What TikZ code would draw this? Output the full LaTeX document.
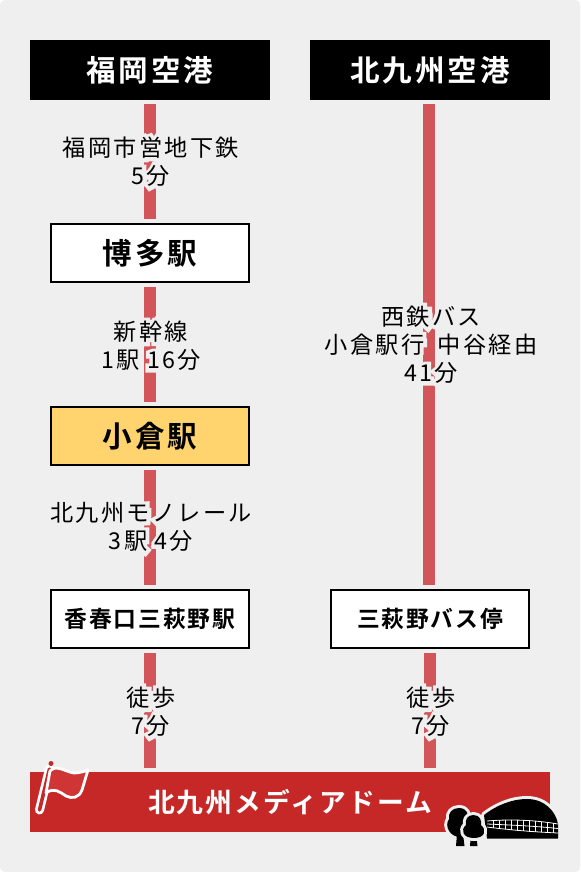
\documentclass[tikz,border=0pt]{standalone}
\usepackage{fontspec}
\usepackage{xcolor}
\setmainfont{Noto Sans CJK JP}
\newfontfamily\routefont[LetterSpace=10]{Noto Sans CJK JP}
\newfontfamily\halorfont[FakeBold=32,LetterSpace=10]{Noto Sans CJK JP}
\newfontfamily\titlefont[LetterSpace=10]{Noto Sans CJK JP Bold}
\newfontfamily\goalfont[LetterSpace=8]{Noto Sans CJK JP Bold}
\definecolor{mapbg}{HTML}{EFEFEF}
\definecolor{railred}{HTML}{D2555A}
\definecolor{goalred}{HTML}{C62828}
\definecolor{flagred}{HTML}{CF3535}
\definecolor{hubyellow}{HTML}{FFD36E}
\newcommand{\halo}[1]{\leavevmode\rlap{\color{mapbg}\halorfont #1}{\routefont #1}}
\usetikzlibrary{positioning, calc}
\tikzset{
  airport/.style = {rectangle, fill=black, text=white,
                    minimum width=6.0cm, minimum height=1.5cm, inner sep=0pt,
                    font=\titlefont\fontsize{21}{24}\selectfont},
  station/.style = {draw=black, line width=0.05cm, fill=white, rectangle,
                    minimum width=4.95cm, minimum height=1.45cm, inner sep=0pt,
                    outer sep=0.025cm,
                    font=\titlefont\fontsize{21}{24}\selectfont},
  stop/.style    = {station, font=\goalfont\fontsize{16.2}{20}\selectfont},
  hub/.style     = {station, fill=hubyellow},
  goal/.style    = {rectangle, fill=goalred, text=white,
                    minimum width=13.0cm, minimum height=1.5cm, inner sep=0pt,
                    font=\goalfont\fontsize{19}{24}\selectfont},
  route/.style   = {align=center, inner sep=0pt,
                    font=\fontsize{16.5}{20}\selectfont},
  rail/.style    = {draw=railred, line width=0.3cm,
                    shorten <=0.1cm, shorten >=0.1cm},
  cutout/.style  = {fill=black, preaction={draw=mapbg, line width=0.15cm, line join=round}},
  grid/.style    = {white, line width=0.02cm},
}

\begin{document}
\begin{tikzpicture}[x=0.025cm, y=-0.025cm]
\useasboundingbox (0,0) rectangle (580,872);
\fill[mapbg, rounded corners=0.12cm] (0,0) rectangle (580,872);

% ── Boxes: left column x=150, right column x=430 ────────────
\node[airport] (fukuoka) at (150, 70) {福岡空港};
\node[airport] (kitakyu) at (430, 70) {北九州空港};
\node[station] (hakata)  at (150, 253) {博多駅};
\node[hub]     (kokura)  at (150, 436) {小倉駅};
\node[stop]    (kawara)  at (150, 619) {香春口三萩野駅};
\node[stop]    (busstop) at (430, 619) {三萩野バス停};
\node[goal]    (dome)    at (290, 802) {北九州メディアドーム};

% ── Rails ───────────────────────────────────────────────────
\draw[rail] (fukuoka.south) -- (hakata.north);
\draw[rail] (hakata.south)  -- (kokura.north);
\draw[rail] (kokura.south)  -- (kawara.north);
\draw[rail] (kawara.south)  -- (kawara.south |- dome.north);
\draw[rail] ([xshift=-0.025cm]kitakyu.south) -- ([xshift=-0.025cm]busstop.north);
\draw[rail] (busstop.south) -- (busstop.south |- dome.north);

% ── Route labels ────────────────────────────────────────────
\node[route] (r1) at (151, 162) {\halo{福岡市営地下鉄}\\\halo{5分}};
\node[route] (r2) at (151, 346) {\halo{新幹線}\\\halo{1駅 16分}};
\node[route] (r3) at (151, 527) {\halo{北九州モノレール}\\\halo{3駅 4分}};
\node[route] (r4) at (151, 712) {\halo{徒歩}\\\halo{7分}};
\node[route] (r5) at (431, 345) {\halo{西鉄バス}\\\halo{小倉駅行\hspace{4pt} 中谷経由}\\\halo{41分}};
\node[route] (r6) at (431, 712) {\halo{徒歩}\\\halo{7分}};

% ── Flag ────────────────────────────────────────────────────
\draw[white, line width=0.225cm, line cap=round] (49.5,769) -- (39.5,810);
\draw[goalred, line width=0.09cm, line cap=round] (49.5,769) -- (39.5,810);
\fill[goalred] (51,763.5) circle (2.5);
\draw[fill=flagred, draw=white, line width=0.07cm, line join=round]
  (50,771) .. controls (56,764) and (66,772) .. (74,773)
  .. controls (80,773) and (85,771) .. (88,770)
  -- (82,790) .. controls (79,798) and (72,799) .. (66,796)
  .. controls (60,792) and (54,787) .. (46,793) -- cycle;

% ── Dome and trees ──────────────────────────────────────────
\path[cutout]
  (484,815) .. controls (497,805) and (512,799) .. (527,799)
  .. controls (545,799) and (556,812) .. (558,824)
  -- (558,838.5) -- (487,838.5) -- cycle;
\draw[grid] (487,821) .. controls (510,819) and (535,820) .. (558,824);
\draw[grid] (487,827) .. controls (510,830) and (535,832) .. (558,833);
\draw[grid] (487,824) .. controls (510,825) and (535,826) .. (558,828.5);
\foreach \gx/\gt/\gb in {493/820.3/827.7, 499/820.1/828.5, 505/820/829.2, 511/820/829.9,
                         517/820/830.5, 523/820.2/831, 529/820.5/831.6, 535/821/832,
                         541/821.7/832.4, 547/822.4/832.7, 553/823.2/833}
  \draw[grid] (\gx,\gt) -- (\gx,\gb);
\path[cutout]
  (459,808) .. controls (467,808) and (469,815) .. (468,819)
  .. controls (473,824) and (472,837) .. (460,837)
  .. controls (450,837) and (444,826) .. (449,819)
  .. controls (448,813) and (452,808) .. (459,808) -- cycle;
\fill[black] (457,834) -- (463,834) -- (464.5,846) -- (456,846) -- cycle;
\fill[black] (471,834) -- (476,834) -- (477.5,846) -- (470,846) -- cycle;
\path[cutout]
  (473.5,815) .. controls (480,815) and (482,821) .. (481,825)
  .. controls (487,830) and (485,838) .. (474,838)
  .. controls (463,838) and (460,830) .. (466,825)
  .. controls (465,820) and (467,815) .. (473.5,815) -- cycle;
\end{tikzpicture}
\end{document}
